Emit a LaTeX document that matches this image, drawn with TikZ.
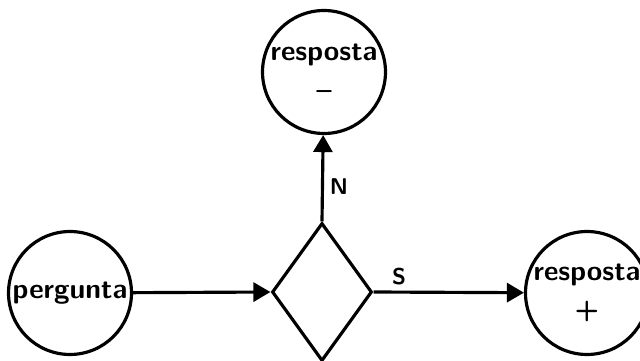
\documentclass[tikz,border=0pt]{standalone}
\usepackage{tikz}
\usetikzlibrary{arrows.meta, shapes.geometric}

\begin{document}
\begin{tikzpicture}[
  x=0.02cm, y=-0.02cm,
  estado/.style={circle, draw, line width=1.8pt, minimum size=2.46cm,
    inner sep=0pt, align=center, font=\fontsize{16}{22}\selectfont\sffamily\bfseries},
  decisao/.style={diamond, draw, line width=1.8pt, minimum width=2cm,
    minimum height=2.76cm, inner sep=0pt},
  seta/.style={-{Triangle[length=0.34cm, width=0.38cm]}, line width=1.8pt},
  rot/.style={font=\fontsize{13}{15}\selectfont\sffamily\bfseries},
]
\clip (0,0) rectangle (640,361);

% Circles
\node[estado] (pergunta) at (70,293) {pergunta};
\node[estado] (resp_neg) at (324,72) {resposta\\--};
\node[estado] (resp_pos) at (587,293) {resposta\\+};

% Decision
\node[decisao] (teste) at (322,292) {};

% Arrows
\draw[seta] (pergunta) -- (teste.west);
\draw[seta] (teste.north) -- node[rot, right, pos=0.4] {N} (resp_neg);
\draw[seta] (teste.east) -- node[rot, above, pos=0.17] {S} (resp_pos);

\end{tikzpicture}
\end{document}
